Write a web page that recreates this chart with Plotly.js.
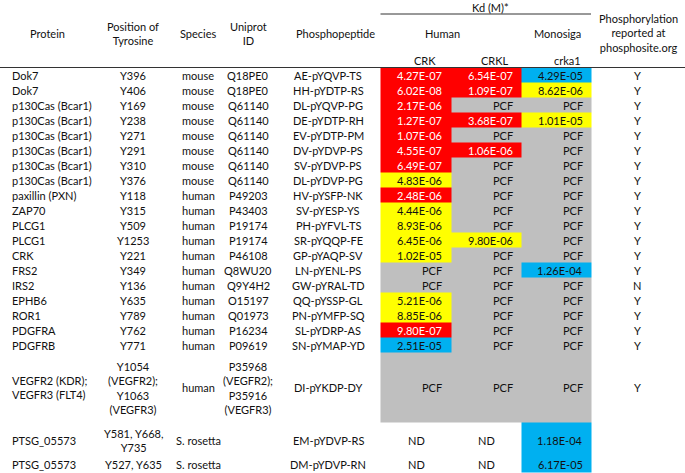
<!DOCTYPE html>
<html>
<head>
<meta charset="utf-8">
<script src="https://cdn.plot.ly/plotly-3.0.1.min.js"></script>
<style>html,body{margin:0;padding:0;background:#fff;}#chart{width:685px;height:473px;}</style>
</head>
<body>
<div id="chart"></div>
<script>
// ---------- data ----------
var proteins = ["Dok7","Dok7","p130Cas (Bcar1)","p130Cas (Bcar1)","p130Cas (Bcar1)","p130Cas (Bcar1)","p130Cas (Bcar1)","p130Cas (Bcar1)","paxillin (PXN)","ZAP70","PLCG1","PLCG1","CRK","FRS2","IRS2","EPHB6","ROR1","PDGFRA","PDGFRB","VEGFR2 (KDR);<br>VEGFR3 (FLT4)","PTSG_05573","PTSG_05573"];
var positions = ["Y396","Y406","Y169","Y238","Y271","Y291","Y310","Y376","Y118","Y315","Y509","Y1253","Y221","Y349","Y136","Y635","Y789","Y762","Y771","Y1054<br>(VEGFR2);<br>Y1063<br>(VEGFR3)","Y581, Y668,<br>Y735","Y527, Y635"];
var species = ["mouse","mouse","mouse","mouse","mouse","mouse","mouse","mouse","human","human","human","human","human","human","human","human","human","human","human","human","S. rosetta","S. rosetta"];
var uniprot = ["Q18PE0","Q18PE0","Q61140","Q61140","Q61140","Q61140","Q61140","Q61140","P49203","P43403","P19174","P19174","P46108","Q8WU20","Q9Y4H2","O15197","Q01973","P16234","P09619","P35968<br>(VEGFR2);<br>P35916<br>(VEGFR3)","",""];
var peptides = ["AE-pYQVP-TS","HH-pYDTP-RS","DL-pYQVP-PG","DE-pYDTP-RH","EV-pYDTP-PM","DV-pYDVP-PS","SV-pYDVP-PS","DL-pYDVP-PG","HV-pYSFP-NK","SV-pYESP-YS","PH-pYFVL-TS","SR-pYQQP-FE","GP-pYAQP-SV","LN-pYENL-PS","GW-pYRAL-TD","QQ-pYSSP-GL","PN-pYMFP-SQ","SL-pYDRP-AS","SN-pYMAP-YD","DI-pYKDP-DY","EM-pYDVP-RS","DM-pYDVP-RN"];
var kdCRK = ["4.27E-07","6.02E-08","2.17E-06","1.27E-07","1.07E-06","4.55E-07","6.49E-07","4.83E-06","2.48E-06","4.44E-06","8.93E-06","6.45E-06","1.02E-05","PCF","PCF","5.21E-06","8.85E-06","9.80E-07","2.51E-05","PCF","ND","ND"];
var kdCRKL = ["6.54E-07","1.09E-07","PCF","3.68E-07","PCF","1.06E-06","PCF","PCF","PCF","PCF","PCF","9.80E-06","PCF","PCF","PCF","PCF","PCF","PCF","PCF","PCF","ND","ND"];
var kdCrka1 = ["4.29E-05","8.62E-06","PCF","1.01E-05","PCF","PCF","PCF","PCF","PCF","PCF","PCF","PCF","PCF","1.26E-04","PCF","PCF","PCF","PCF","PCF","PCF","1.18E-04","6.17E-05"];
var phosphosite = ["Y","Y","Y","Y","Y","Y","Y","Y","Y","Y","Y","Y","Y","Y","N","Y","Y","Y","Y","Y","",""];
var kdColumns = ["CRK","CRKL","crka1"];

// ---------- layout constants ----------
var FONT = "Lato, 'Open Sans', sans-serif";
var FS = 11;
var TXT = "#111111";
var rowHeights = [];
for (var i = 0; i < 19; i++) rowHeights.push(15);
rowHeights.push(70, 35, 14.5);
var tableTop = 67.5;
var rowEdges = [tableTop];
for (var i = 0; i < rowHeights.length; i++) rowEdges.push(rowEdges[i] + rowHeights[i]);
var rowMid = [];
for (var i = 0; i < rowHeights.length; i++) rowMid.push((rowEdges[i] + rowEdges[i+1]) / 2);
var kdEdges = [380.5, 451, 521.5, 591];
var kdRight = [444, 514.5, 584.5];
var kdCenter = [416, 486.5, 556];

function code(v) {
  if (v === "ND") return 0;
  if (v === "PCF") return 4;
  var n = parseFloat(v);
  if (n < 3e-6) return 1;     // strong (red)
  if (n < 2e-5) return 2;     // medium (yellow)
  return 3;                   // weak (blue)
}
var kdData = [kdCRK, kdCRKL, kdCrka1];
var z = [];
for (var r = 0; r < proteins.length; r++) {
  z.push([code(kdCRK[r]), code(kdCRKL[r]), code(kdCrka1[r])]);
}

var heat = {
  type: "heatmap",
  x: kdEdges, y: rowEdges, z: z,
  zmin: 0, zmax: 4,
  colorscale: [[0,"#ffffff"],[0.125,"#ffffff"],[0.125,"#ff0000"],[0.375,"#ff0000"],[0.375,"#ffff00"],[0.625,"#ffff00"],[0.625,"#00b0f0"],[0.875,"#00b0f0"],[0.875,"#bfbfbf"],[1,"#bfbfbf"]],
  showscale: false, hoverinfo: "skip", xgap: 0, ygap: 0
};

var ann = [];
function add(x, y, text, anchor, color, extra) {
  var a = {x: x, y: y, xref: "x", yref: "y", text: text, showarrow: false,
    xanchor: anchor || "center", yanchor: "middle",
    font: {family: FONT, size: FS, color: color || TXT}, align: anchor === "left" ? "left" : "center"};
  if (extra) for (var k in extra) a[k] = extra[k];
  ann.push(a);
}

// headers
add(47, 33, "Protein");
add(133, 33.5, "Position of<br>Tyrosine");
add(198, 33, "Species");
add(248, 33.5, "Uniprot<br>ID");
add(335, 33, "Phosphopeptide");
add(490, 7, "Kd (M)*");
add(442, 33, "Human");
add(557, 33, "Monosiga");
add(425, 60, kdColumns[0]);
add(495, 60, kdColumns[1]);
add(567, 60, kdColumns[2]);
add(638, 33, "Phosphorylation<br>reported at<br>phosphosite.org");

// body
for (var r = 0; r < proteins.length; r++) {
  var y = rowMid[r];
  add(10, y, proteins[r], "left");
  add(133, y, positions[r]);
  add(198, y, species[r]);
  if (uniprot[r]) add(248, y, uniprot[r]);
  add(328, y, peptides[r]);
  for (var c = 0; c < 3; c++) {
    var v = kdData[c][r];
    var cd = code(v);
    if (cd === 0) add(kdCenter[c], y, v);
    else add(kdRight[c], y, v, "right", cd === 1 ? "#ffffff" : TXT);
  }
  if (phosphosite[r]) add(637, y, phosphosite[r]);
}

var shapes = [
  {type: "line", xref: "x", yref: "y", x0: 380.5, x1: 591, y0: 14, y1: 14, line: {color: "#333333", width: 1}},
  {type: "line", xref: "x", yref: "y", x0: 0, x1: 685, y0: tableTop, y1: tableTop, line: {color: "#333333", width: 1}}
];

var layout = {
  width: 685, height: 473,
  margin: {l: 0, r: 0, t: 0, b: 0, pad: 0},
  paper_bgcolor: "#ffffff", plot_bgcolor: "#ffffff",
  xaxis: {range: [0, 685], visible: false, fixedrange: true},
  yaxis: {range: [473, 0], visible: false, fixedrange: true},
  annotations: ann, shapes: shapes, showlegend: false
};
Plotly.newPlot("chart", [heat], layout, {staticPlot: true, displayModeBar: false});
</script>
</body>
</html>
